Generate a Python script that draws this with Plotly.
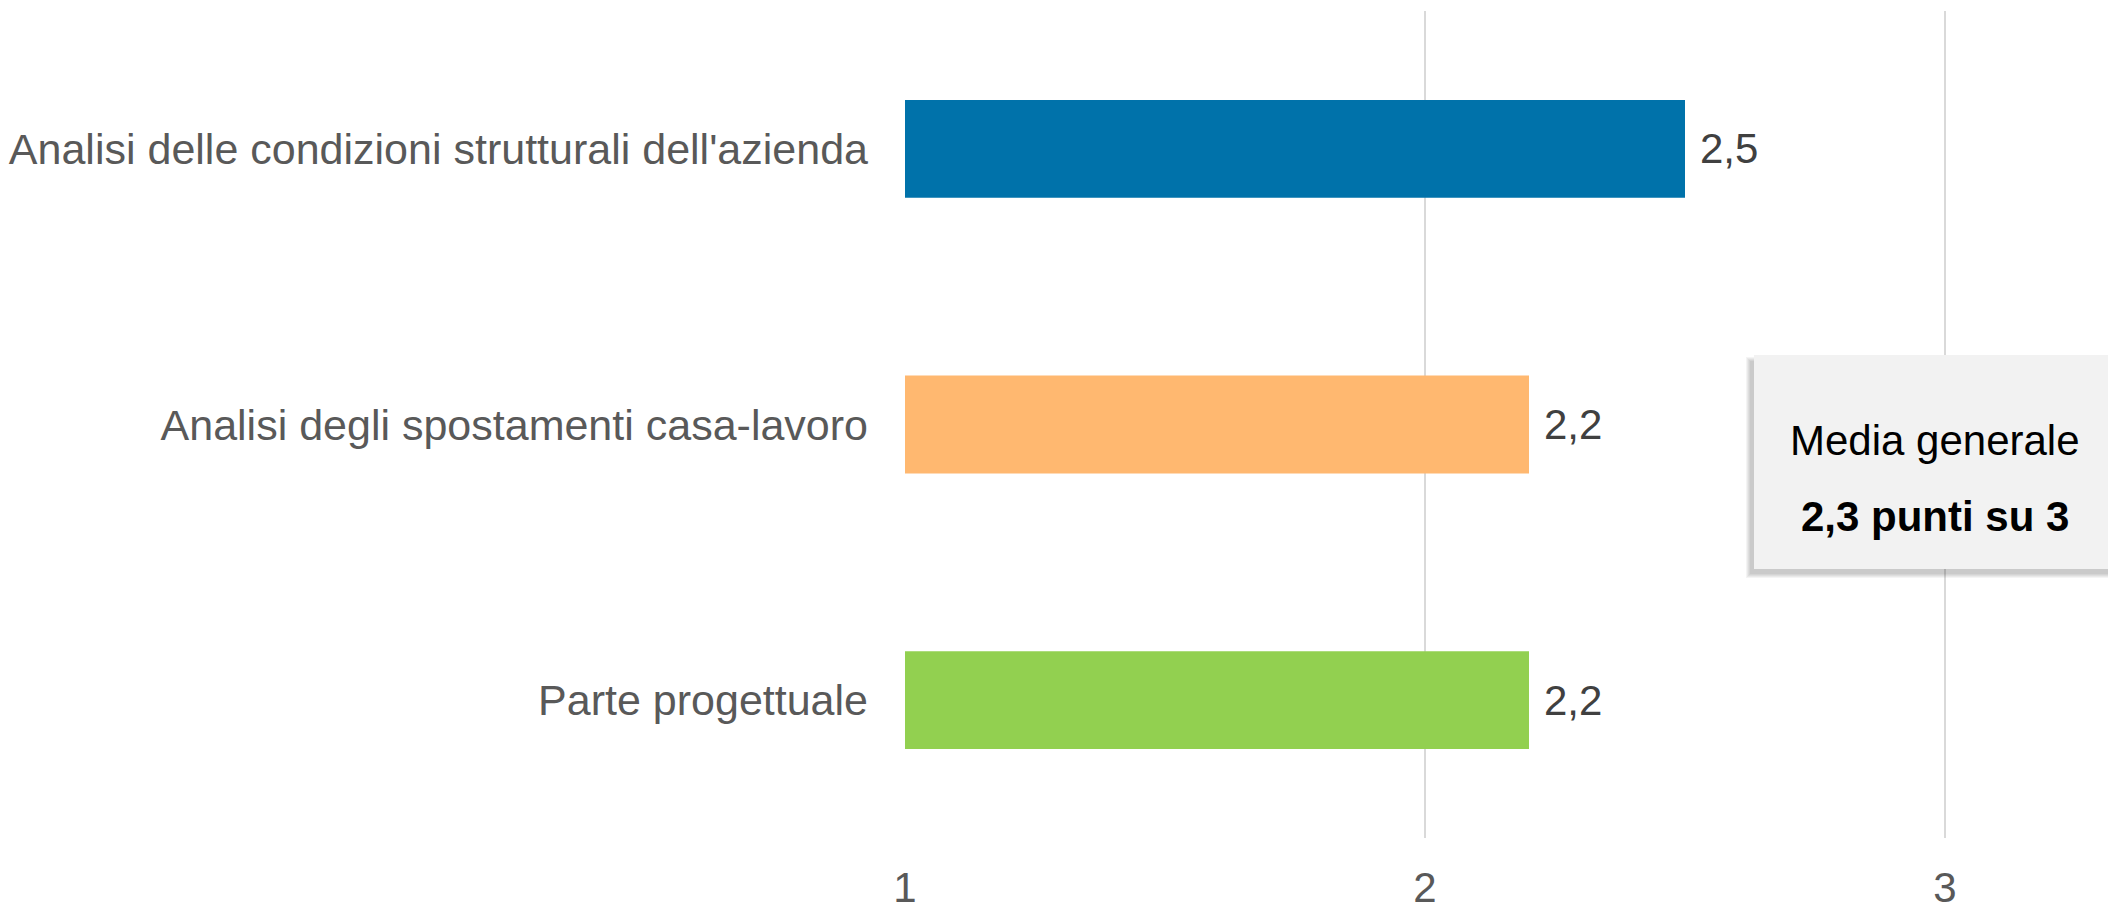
import plotly.graph_objects as go

categories = [
    "Analisi delle condizioni strutturali dell'azienda",
    "Analisi degli spostamenti casa-lavoro",
    "Parte progettuale",
]
values = [2.5, 2.2, 2.2]
colors = ["#0072AA", "#FFB870", "#92D050"]
tick_vals = [1, 2, 3]
box_title = "Media generale"
box_value = "2,3 punti su 3"

FONT = "Arial, Liberation Sans, sans-serif"
W, H = 2116, 905
OFF = 8  # page body margin shifts the figure by 8px
L, R, T, B = 905 - OFF, 0, 11 - OFF, H - (838 - OFF)
PW, PH = W - L - R, H - T - B


def px(x):
    # screen x -> paper
    return (x - OFF - L) / PW


def py(y):
    # screen y -> paper
    return (H - B - (y - OFF)) / PH


fig = go.Figure()
fig.add_trace(go.Bar(
    y=categories, x=[v - 1 for v in values], base=1,
    orientation="h", marker=dict(color=colors, line=dict(width=0)),
    width=0.355, hoverinfo="skip",
))

# value labels to the right of each bar
for cat, v in zip(categories, values):
    fig.add_annotation(
        x=v, y=cat, text=f"{v:.1f}".replace(".", ","),
        xanchor="left", xshift=13, showarrow=False,
        font=dict(family=FONT, size=42, color="#404040"),
    )

# summary box with a soft shadow (offset left/down, blurred)
bx0, bx1, by0, by1 = 1754, 2140, 355, 569
sx, sy = -3, 4
for k in range(5, 0, -1):
    fig.add_shape(type="rect", xref="paper", yref="paper",
                  x0=px(bx0 + sx - k), x1=px(bx1),
                  y0=py(by1 + sy + k), y1=py(by0 + sy - k + 3),
                  fillcolor="rgba(0,0,0,0.045)", line=dict(width=0), layer="above")
fig.add_shape(type="rect", xref="paper", yref="paper",
              x0=px(bx0), x1=px(bx1), y0=py(by1), y1=py(by0),
              fillcolor="#F2F2F2", line=dict(width=0), layer="above")
fig.add_annotation(xref="paper", yref="paper", x=px(1935), y=py(440),
                   xanchor="center", yanchor="middle",
                   text=box_title, showarrow=False,
                   font=dict(family=FONT, size=42, color="#000000"))
fig.add_annotation(xref="paper", yref="paper", x=px(1935), y=py(517),
                   xanchor="center", yanchor="middle",
                   text=f"<b>{box_value}</b>", showarrow=False,
                   font=dict(family=FONT, size=42, color="#000000"))

fig.update_layout(
    width=W, height=H,
    margin=dict(l=L, r=R, t=T, b=B, autoexpand=False),
    paper_bgcolor="white", plot_bgcolor="white",
    showlegend=False,
    font=dict(family=FONT, size=42, color="#595959"),
)
fig.update_xaxes(
    range=[1, 1 + PW / 520], tickvals=tick_vals,
    ticktext=[str(t) for t in tick_vals],
    showgrid=True, gridcolor="#D9D9D9", gridwidth=2,
    zeroline=False, showline=False, ticks="", automargin=False,
    ticklabelstandoff=21,
    tickfont=dict(family=FONT, size=42, color="#595959"),
)
fig.update_yaxes(
    autorange="reversed", showgrid=False, zeroline=False, showline=False,
    ticks="", ticklabelstandoff=36, automargin=False,
    tickfont=dict(family=FONT, size=43, color="#595959"),
)

fig.write_html("out.html")
